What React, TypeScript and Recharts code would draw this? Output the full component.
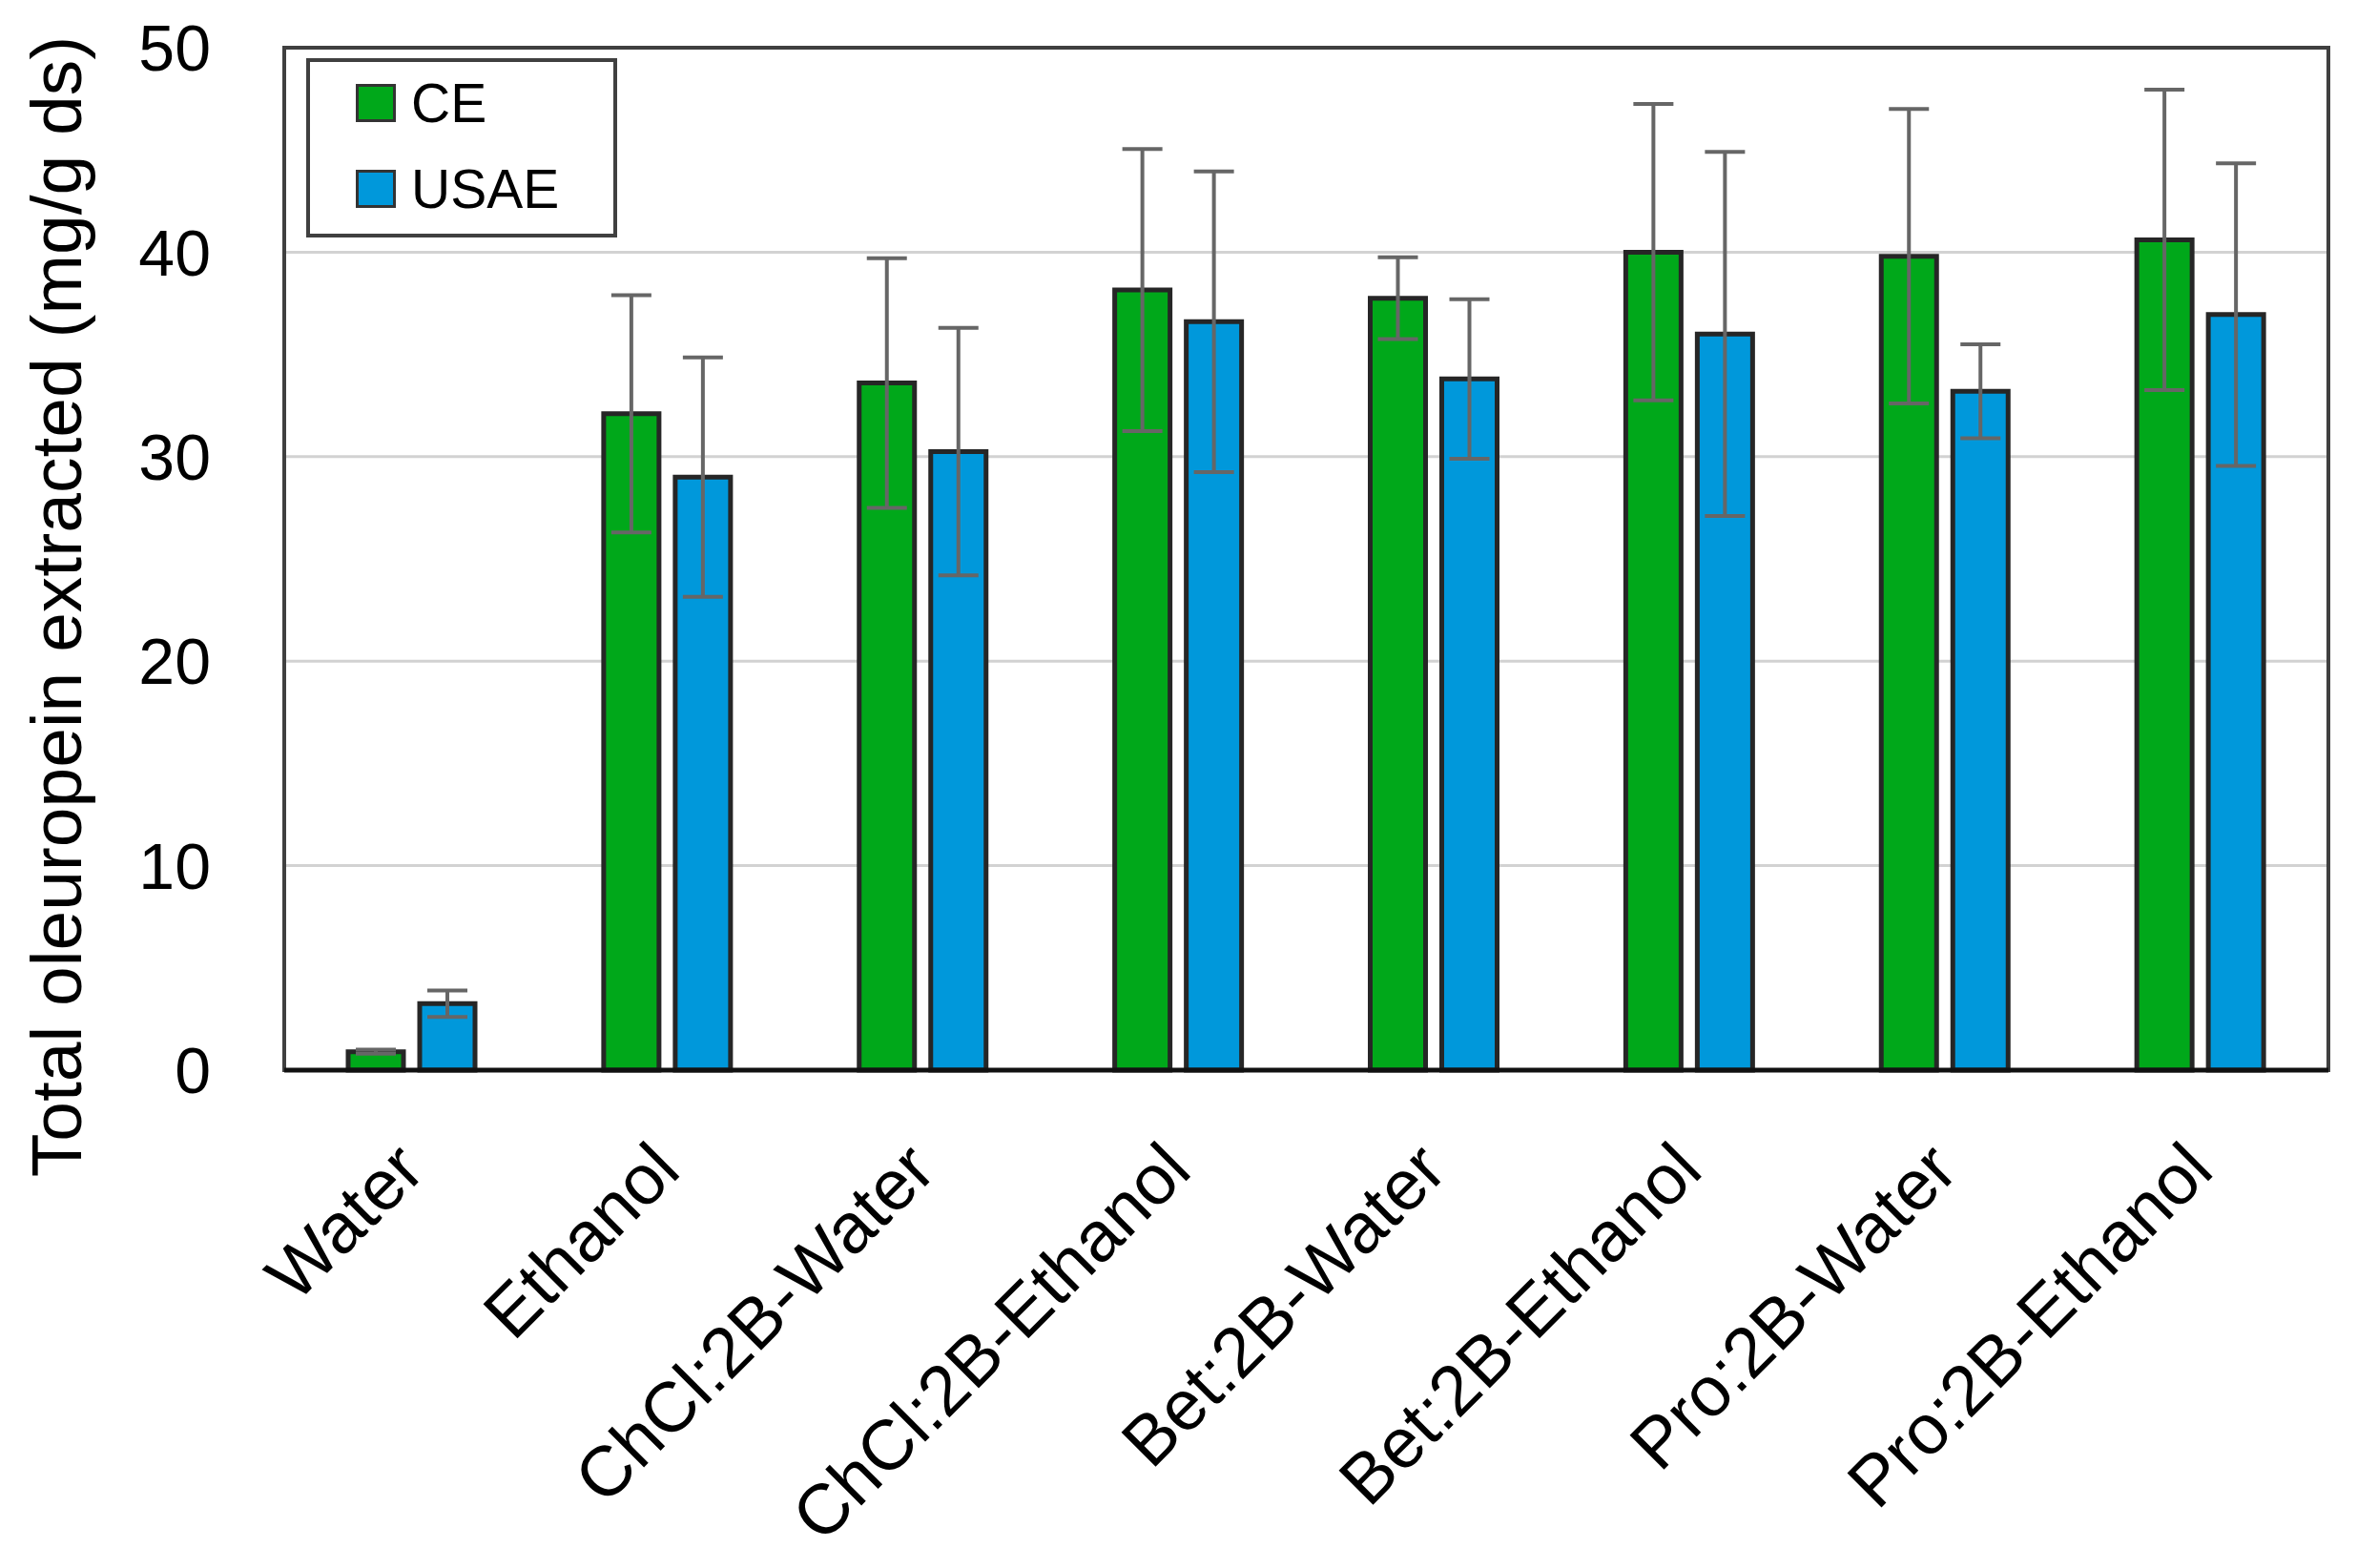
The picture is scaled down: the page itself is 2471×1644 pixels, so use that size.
import { BarChart, Bar, XAxis, YAxis, CartesianGrid, ErrorBar, Legend, ReferenceArea } from 'recharts'

const categories = [
  'Water',
  'Ethanol',
  'ChCl:2B-Water',
  'ChCl:2B-Ethanol',
  'Bet:2B-Water',
  'Bet:2B-Ethanol',
  'Pro:2B-Water',
  'Pro:2B-Ethanol',
]
const ceValues = [0.9, 32.1, 33.6, 38.15, 37.75, 40.0, 39.8, 40.6]
const ceErrors = [0.1, 5.8, 6.1, 6.9, 2.0, 7.25, 7.2, 7.35]
const usaeValues = [3.25, 29.0, 30.25, 36.6, 33.8, 36.0, 33.2, 36.95]
const usaeErrors = [0.65, 5.85, 6.05, 7.35, 3.9, 8.9, 2.3, 7.4]
const yTicks = [0, 10, 20, 30, 40, 50]

const data = categories.map((name, i) => ({
  name,
  ce: ceValues[i],
  ceErr: ceErrors[i],
  usae: usaeValues[i],
  usaeErr: usaeErrors[i],
}))

const GREEN = '#00a81a'
const BLUE = '#0098db'
const FONT = '"Liberation Sans", Arial, sans-serif'

function XTick({ x, y, payload }: any) {
  return (
    <g transform={`translate(${x + 16},${y + 106})`}>
      <text
        textAnchor="end"
        transform="rotate(-45)"
        fontSize={74}
        fontFamily={FONT}
        fill="#000"
      >
        {payload.value}
      </text>
    </g>
  )
}

function LegendBox() {
  const rows = [
    { label: 'CE', color: GREEN },
    { label: 'USAE', color: BLUE },
  ]
  return (
    <div
      style={{
        width: 318,
        height: 180,
        border: '4px solid #404040',
        background: '#fff',
        boxSizing: 'content-box',
        fontFamily: FONT,
        position: 'relative',
      }}
    >
      {rows.map((r, i) => (
        <div
          key={r.label}
          style={{
            position: 'absolute',
            left: 48,
            top: 20 + i * 90,
            display: 'flex',
            alignItems: 'center',
            height: 46,
          }}
        >
          <div
            style={{
              width: 36,
              height: 34,
              background: r.color,
              border: '3px solid #333',
              marginRight: 16,
            }}
          />
          <span style={{ fontSize: 57, color: '#000', lineHeight: 1 }}>{r.label}</span>
        </div>
      ))}
    </div>
  )
}

export default function App() {
  return (
    <div style={{ position: 'absolute', left: 0, top: 0, background: '#fff' }}>
      <BarChart
        width={2471}
        height={1644}
        data={data}
        margin={{ top: 50, right: 30, left: 0, bottom: 0 }}
        barCategoryGap="24%"
        barGap={17}
      >
        <CartesianGrid vertical={false} stroke="#d2d2d2" strokeWidth={3} />
        <XAxis
          dataKey="name"
          height={522}
          interval={0}
          tickSize={0}
          tickLine={false}
          axisLine={{ stroke: '#111', strokeWidth: 5 }}
          tick={<XTick />}
        />
        <YAxis
          width={298}
          domain={[0, 50]}
          ticks={yTicks}
          tickSize={0}
          tickMargin={77}
          axisLine={false}
          tickLine={false}
          tick={{ fontSize: 68, fontFamily: FONT, fill: '#000' }}
          label={{
            content: () => (
              <text
                x={85}
                y={636}
                transform="rotate(-90, 85, 636)"
                textAnchor="middle"
                fontSize={75}
                fontFamily={FONT}
                fill="#000"
              >
                Total oleuropein extracted (mg/g ds)
              </text>
            ),
          }}
        />
        <ReferenceArea y1={0} y2={50} fill="none" stroke="#404040" strokeWidth={4} ifOverflow="visible" />
        <Legend
          layout="vertical"
          align="center"
          verticalAlign="middle"
          content={() => <LegendBox />}
          wrapperStyle={{ position: 'absolute', left: 321, top: 61, width: 'auto' }}
        />
        <Bar dataKey="ce" name="CE" fill={GREEN} stroke="#262626" strokeWidth={5} barSize={58} isAnimationActive={false}>
          <ErrorBar dataKey="ceErr" direction="y" width={21} stroke="#666" strokeWidth={4} isAnimationActive={false} />
        </Bar>
        <Bar dataKey="usae" name="USAE" fill={BLUE} stroke="#262626" strokeWidth={5} barSize={58} isAnimationActive={false}>
          <ErrorBar dataKey="usaeErr" direction="y" width={21} stroke="#666" strokeWidth={4} isAnimationActive={false} />
        </Bar>
      </BarChart>
    </div>
  )
}
